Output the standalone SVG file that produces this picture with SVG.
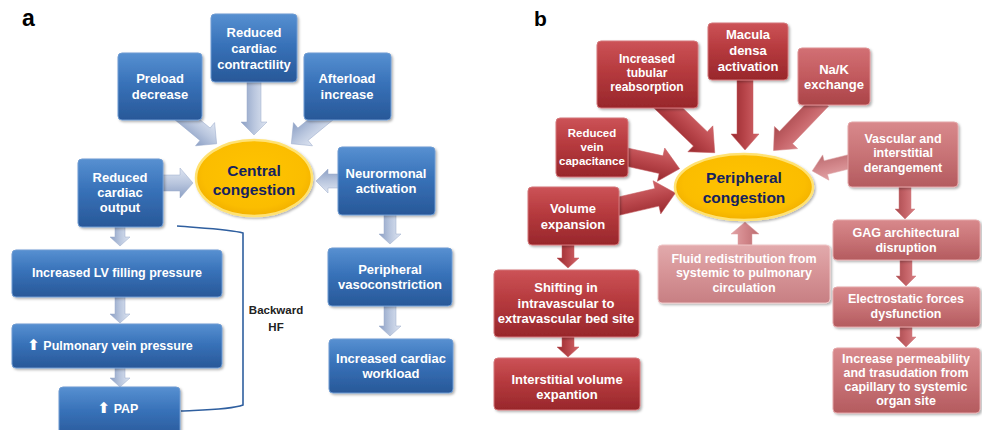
<svg xmlns="http://www.w3.org/2000/svg" width="982" height="430" viewBox="0 0 982 430">
<defs>
<linearGradient id="gBlue" x1="0" y1="0" x2="0" y2="1">
<stop offset="0" stop-color="#5790d1"/><stop offset="0.45" stop-color="#3872b9"/><stop offset="1" stop-color="#285898"/>
</linearGradient>
<linearGradient id="gRed" x1="0" y1="0" x2="0" y2="1">
<stop offset="0" stop-color="#cc5357"/><stop offset="0.45" stop-color="#b63a3e"/><stop offset="1" stop-color="#98272b"/>
</linearGradient>
<linearGradient id="gRed2" x1="0" y1="0" x2="0" y2="1">
<stop offset="0" stop-color="#d27074"/><stop offset="0.5" stop-color="#c25a5e"/><stop offset="1" stop-color="#aa4448"/>
</linearGradient>
<linearGradient id="gRed3" x1="0" y1="0" x2="0" y2="1">
<stop offset="0" stop-color="#d8898c"/><stop offset="0.5" stop-color="#c87376"/><stop offset="1" stop-color="#b45b5f"/>
</linearGradient>
<linearGradient id="gRed4" x1="0" y1="0" x2="0" y2="1">
<stop offset="0" stop-color="#e2aaac"/><stop offset="0.5" stop-color="#d69396"/><stop offset="1" stop-color="#c77f83"/>
</linearGradient>
<linearGradient id="aBlue" x1="0" y1="0" x2="0" y2="1">
<stop offset="0" stop-color="#dfe6f2"/><stop offset="0.5" stop-color="#b9c6de"/><stop offset="1" stop-color="#8b9fc4"/>
</linearGradient>
<linearGradient id="aRed" x1="0" y1="0" x2="0" y2="1">
<stop offset="0" stop-color="#d2666a"/><stop offset="0.5" stop-color="#b8454a"/><stop offset="1" stop-color="#98292e"/>
</linearGradient>
<linearGradient id="aRed2" x1="0" y1="0" x2="0" y2="1">
<stop offset="0" stop-color="#d88084"/><stop offset="0.5" stop-color="#c46267"/><stop offset="1" stop-color="#a84a4e"/>
</linearGradient>
<linearGradient id="aRed3" x1="0" y1="0" x2="0" y2="1">
<stop offset="0" stop-color="#e2a3a6"/><stop offset="0.5" stop-color="#d2868a"/><stop offset="1" stop-color="#bb6c70"/>
</linearGradient>
<radialGradient id="gYel" cx="0.5" cy="0.45" r="0.55">
<stop offset="0" stop-color="#ffc400"/><stop offset="0.8" stop-color="#fbbd00"/><stop offset="1" stop-color="#f2b000"/>
</radialGradient>
<filter id="sh" x="-10%" y="-10%" width="125%" height="130%">
<feDropShadow dx="1.5" dy="1.5" stdDeviation="1.2" flood-color="#000" flood-opacity="0.3"/>
</filter>
</defs>
<style>
.bx{stroke-width:1;filter:url(#sh)}
.b{fill:url(#gBlue);stroke:#6e9bd2}
.r{fill:url(#gRed);stroke:#d3777a}
.r2{fill:url(#gRed2);stroke:#de9093}
.r3{fill:url(#gRed3);stroke:#e4a6a8}
.r4{fill:url(#gRed4);stroke:#efc6c7}
.el{fill:url(#gYel);stroke:#ffe273;stroke-width:2.5;filter:url(#sh)}
text{font-family:"Liberation Sans",Arial,sans-serif;font-weight:bold;text-anchor:middle}
.t{fill:#fff;font-size:13px}
.ts{fill:#fff;font-size:12px}
.tc{fill:#14225f;font-size:15.5px}
.tl{fill:#000;font-size:23px;text-anchor:start}
.th{fill:#222;font-size:11.5px}
.ab{fill:url(#aBlue);stroke:#9aaacb;stroke-width:0.5}
.ar{fill:url(#aRed);stroke:#c45a5e;stroke-width:0.5}
.ar2{fill:url(#aRed2);stroke:#cf7b7e;stroke-width:0.5}
.ar3{fill:url(#aRed3);stroke:#dca0a2;stroke-width:0.5}
.brk{fill:none;stroke:#2f5f9f;stroke-width:1.6}
.ic{font-family:"DejaVu Sans",sans-serif;font-size:15px}
</style>

<text class="tl" x="22" y="26">a</text>
<text class="tl" x="534" y="26" style="font-size:21px">b</text>

<g id="connectors">
<path class="ab" transform="translate(178,112) rotate(39.4)" d="M0,-8 L35,-8 L35,-15 L50,0 L35,15 L35,8 L0,8 Z"/>
<path class="ab" transform="translate(254,80) rotate(90)" d="M0,-7 L42,-7 L42,-13 L55,0 L42,13 L42,7 L0,7 Z"/>
<path class="ab" transform="translate(330,112) rotate(140.6)" d="M0,-8 L35,-8 L35,-15 L50,0 L35,15 L35,8 L0,8 Z"/>
<path class="ab" transform="translate(160,183)" d="M0,-8 L20,-8 L20,-15 L33,0 L20,15 L20,8 L0,8 Z"/>
<path class="ab" transform="translate(340,181) rotate(180)" d="M0,-7 L12,-7 L12,-12 L24,0 L12,12 L12,7 L0,7 Z"/>
<path class="ab" transform="translate(120,226) rotate(90)" d="M0,-5 L11,-5 L11,-10 L20,0 L11,10 L11,5 L0,5 Z"/>
<path class="ab" transform="translate(120,296) rotate(90)" d="M0,-5 L18,-5 L18,-10 L27,0 L18,10 L18,5 L0,5 Z"/>
<path class="ab" transform="translate(120,367) rotate(90)" d="M0,-5 L11,-5 L11,-10 L20,0 L11,10 L11,5 L0,5 Z"/>
<path class="ab" transform="translate(390,214) rotate(90)" d="M0,-6 L20,-6 L20,-11 L30,0 L20,11 L20,6 L0,6 Z"/>
<path class="ab" transform="translate(390,305) rotate(90)" d="M0,-6 L21,-6 L21,-11 L31,0 L21,11 L21,6 L0,6 Z"/>
<path class="brk" d="M177,226 C200,228 230,229 243,233 L243,405 C230,410 200,410 181,411"/>

<path class="ar" transform="translate(660,100) rotate(43.9)" d="M0,-10 L56,-10 L56,-18 L76,0 L56,18 L56,10 L0,10 Z"/>
<path class="ar" transform="translate(745,78) rotate(90)" d="M0,-8 L56,-8 L56,-14 L72,0 L56,14 L56,8 L0,8 Z"/>
<path class="ar2" transform="translate(822,100) rotate(133.8)" d="M0,-9 L52,-9 L52,-16 L70,0 L52,16 L52,9 L0,9 Z"/>
<path class="ar" transform="translate(622,156) rotate(12.5)" d="M0,-9 L40,-9 L40,-17 L59,0 L40,17 L40,9 L0,9 Z"/>
<path class="ar" transform="translate(615,207) rotate(-13)" d="M0,-9 L43,-9 L43,-17 L62,0 L43,17 L43,9 L0,9 Z"/>
<path class="ar3" transform="translate(852,161) rotate(166)" d="M0,-7 L27,-7 L27,-13 L41,0 L27,13 L27,7 L0,7 Z"/>
<path class="ar3" transform="translate(745,248) rotate(-90)" d="M0,-7 L14,-7 L14,-14 L26,0 L14,14 L14,7 L0,7 Z"/>
<path class="ar" transform="translate(568,243) rotate(90)" d="M0,-6 L15,-6 L15,-11 L25,0 L15,11 L15,6 L0,6 Z"/>
<path class="ar" transform="translate(568,335) rotate(90)" d="M0,-6 L12,-6 L12,-11 L22,0 L12,11 L12,6 L0,6 Z"/>
<path class="ar2" transform="translate(905,185) rotate(90)" d="M0,-6 L24,-6 L24,-10 L34,0 L24,10 L24,6 L0,6 Z"/>
<path class="ar2" transform="translate(906,258) rotate(90)" d="M0,-6 L18,-6 L18,-10 L28,0 L18,10 L18,6 L0,6 Z"/>
<path class="ar2" transform="translate(906,325) rotate(90)" d="M0,-6 L12,-6 L12,-10 L22,0 L12,10 L12,6 L0,6 Z"/>
</g>

<g id="preload"><rect class="bx b" x="118" y="53" width="84" height="67" rx="4"/>
<text class="t" x="160" y="83">Preload</text><text class="t" x="160" y="99">decrease</text></g>
<g id="contractility"><rect class="bx b" x="211" y="14" width="86" height="68" rx="4"/>
<text class="t" x="254" y="37">Reduced</text><text class="t" x="254" y="53">cardiac</text><text class="t" x="254" y="69">contractility</text></g>
<g id="afterload"><rect class="bx b" x="304" y="53" width="87" height="67" rx="4"/>
<text class="t" x="347" y="83">Afterload</text><text class="t" x="347" y="99">increase</text></g>
<g id="output"><rect class="bx b" x="78" y="159" width="85" height="68" rx="4"/>
<text class="t" x="120" y="182">Reduced</text><text class="t" x="120" y="197">cardiac</text><text class="t" x="120" y="212">output</text></g>
<g id="central"><ellipse class="el" cx="254" cy="178" rx="58" ry="38"/>
<text class="tc" x="254" y="176">Central</text><text class="tc" x="254" y="195">congestion</text></g>
<g id="neuro"><rect class="bx b" x="338" y="147" width="97" height="68" rx="4"/>
<text class="t" x="386" y="178">Neurormonal</text><text class="t" x="386" y="193">activation</text></g>
<g id="lv"><rect class="bx b" x="12" y="250" width="210" height="47" rx="4"/>
<text class="t" x="117" y="277" style="font-size:12.5px">Increased LV filling pressure</text></g>
<g id="pulm"><rect class="bx b" x="12" y="324" width="210" height="44" rx="4"/>
<text class="t" x="110" y="350" style="font-size:12.5px"><tspan class="ic">⬆</tspan> Pulmonary vein pressure</text></g>
<g id="pap"><rect class="bx b" x="59" y="387" width="121" height="52" rx="4"/>
<text class="t" x="118" y="413" style="font-size:12.5px"><tspan class="ic">⬆</tspan> PAP</text></g>
<g id="backward"><text class="th" x="276" y="314">Backward</text><text class="th" x="276" y="331">HF</text></g>
<g id="vaso"><rect class="bx b" x="328" y="248" width="124" height="58" rx="4"/>
<text class="t" x="390" y="274">Peripheral</text><text class="t" x="390" y="289">vasoconstriction</text></g>
<g id="workload"><rect class="bx b" x="329" y="339" width="124" height="54" rx="4"/>
<text class="t" x="391" y="363">Increased cardiac</text><text class="t" x="391" y="378">workload</text></g>

<g id="tubular"><rect class="bx r" x="597" y="41" width="101" height="67" rx="4"/>
<text class="ts" x="647" y="63">Increased</text><text class="ts" x="647" y="77">tubular</text><text class="ts" x="647" y="91">reabsorption</text></g>
<g id="macula"><rect class="bx r" x="708" y="23" width="80" height="57" rx="4"/>
<text class="t" x="748" y="39">Macula</text><text class="t" x="748" y="55">densa</text><text class="t" x="748" y="71">activation</text></g>
<g id="nak"><rect class="bx r2" x="798" y="48" width="72" height="57" rx="4"/>
<text class="t" x="834" y="74">Na/K</text><text class="t" x="834" y="89">exchange</text></g>
<g id="vein"><rect class="bx r" x="556" y="118" width="72" height="59" rx="4"/>
<text class="ts" x="592" y="137" style="font-size:11.5px">Reduced</text><text class="ts" x="592" y="151" style="font-size:11.5px">vein</text><text class="ts" x="592" y="165" style="font-size:11.5px">capacitance</text></g>
<g id="volume"><rect class="bx r" x="528" y="187" width="91" height="58" rx="4"/>
<text class="t" x="573" y="213">Volume</text><text class="t" x="573" y="229">expansion</text></g>
<g id="peripheral"><ellipse class="el" cx="744" cy="187" rx="69" ry="33"/>
<text class="tc" x="744" y="183">Peripheral</text><text class="tc" x="744" y="203">congestion</text></g>
<g id="fluid"><rect class="bx r4" x="658" y="245" width="172" height="58" rx="4"/>
<text class="ts" x="744" y="263" style="font-size:12.5px">Fluid redistribution from</text><text class="ts" x="744" y="277" style="font-size:12.5px">systemic to pulmonary</text><text class="ts" x="744" y="292" style="font-size:12.5px">circulation</text></g>
<g id="vascular"><rect class="bx r3" x="848" y="122" width="110" height="65" rx="4"/>
<text class="ts" x="903" y="143" style="font-size:12.5px">Vascular and</text><text class="ts" x="903" y="157" style="font-size:12.5px">interstitial</text><text class="ts" x="903" y="172" style="font-size:12.5px">derangement</text></g>
<g id="gag"><rect class="bx r3" x="833" y="220" width="147" height="40" rx="4"/>
<text class="ts" x="906" y="237" style="font-size:12.5px">GAG architectural</text><text class="ts" x="906" y="252" style="font-size:12.5px">disruption</text></g>
<g id="electro"><rect class="bx r3" x="833" y="287" width="147" height="40" rx="4"/>
<text class="ts" x="906" y="303" style="font-size:12.5px">Electrostatic forces</text><text class="ts" x="906" y="318" style="font-size:12.5px">dysfunction</text></g>
<g id="permeability"><rect class="bx r3" x="833" y="348" width="147" height="65" rx="4"/>
<text class="ts" x="906" y="363" style="font-size:12.5px">Increase permeability</text><text class="ts" x="906" y="377" style="font-size:12.5px">and trasudation from</text><text class="ts" x="906" y="391" style="font-size:12.5px">capillary to systemic</text><text class="ts" x="906" y="405" style="font-size:12.5px">organ site</text></g>
<g id="shifting"><rect class="bx r" x="494" y="270" width="145" height="67" rx="4"/>
<text class="t" x="566" y="292">Shifting in</text><text class="t" x="566" y="308">intravascular to</text><text class="t" x="566" y="323">extravascular bed site</text></g>
<g id="interstitial"><rect class="bx r" x="494" y="358" width="146" height="52" rx="4"/>
<text class="t" x="567" y="384">Interstitial volume</text><text class="t" x="567" y="399">expantion</text></g>
</svg>
